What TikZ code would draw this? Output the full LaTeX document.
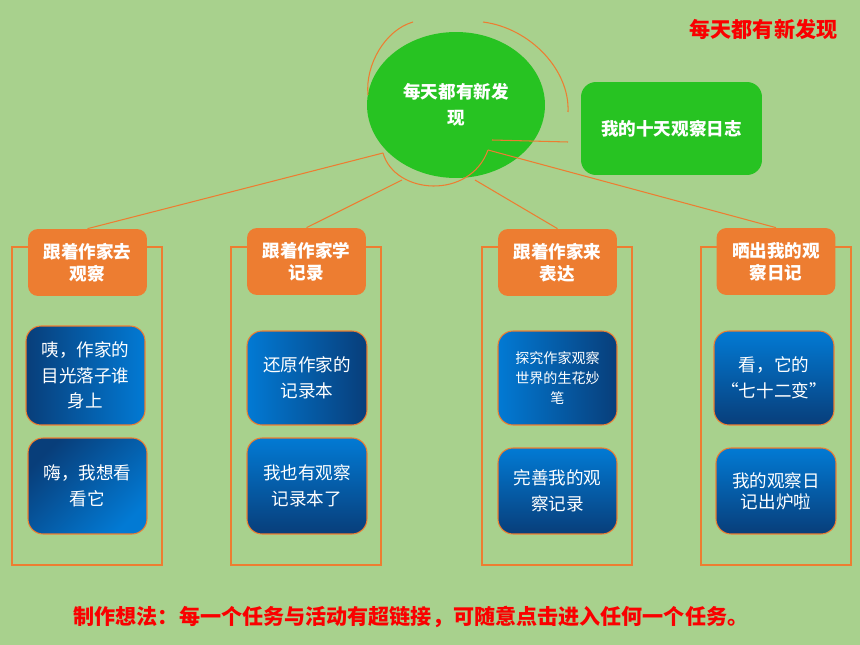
\documentclass[tikz,border=0pt]{standalone}
\usepackage{fontspec}
\setmainfont{Noto Sans CJK SC}
\usetikzlibrary{shapes.geometric}
\definecolor{bggreen}{RGB}{168,209,141}
\definecolor{leafgreen}{RGB}{39,195,34}
\definecolor{taskorange}{RGB}{237,125,49}
\definecolor{deepblue}{RGB}{8,62,122}
\definecolor{brightblue}{RGB}{2,122,212}
\definecolor{titlered}{RGB}{250,0,0}

\begin{document}
\begin{tikzpicture}[x=0.02cm,y=-0.02cm,
  thread/.style={draw=taskorange,line width=0.6pt},
  task/.style={fill=taskorange,rounded corners=0.2cm,inner sep=0pt,
    minimum width=2.38cm,minimum height=1.34cm,align=center,text=white,
    font=\bfseries\fontsize{10}{12.5}\selectfont},
  step box/.style={draw=taskorange,line width=0.6pt,rounded corners=0.3cm,
    inner sep=0pt,minimum width=2.38cm,align=center,text=white,
    font=\fontsize{10}{14.5}\selectfont},
  to right/.style={left color=deepblue,right color=brightblue},
  to left/.style={left color=brightblue,right color=deepblue},
  to bottom/.style={top color=brightblue,bottom color=deepblue},
  to corner/.style={top color=deepblue,bottom color=brightblue,shading angle=45}]
    \fill[bggreen] (0,0) rectangle (860,645);

    % frames behind the four tasks
    \draw[thread] (12,247) rectangle (162,565);
    \draw[thread] (231,247) rectangle (381,565);
    \draw[thread] (482,247) rectangle (632,565);
    \draw[thread] (701,247) rectangle (851,565);

    \node[ellipse,fill=leafgreen,minimum width=3.56cm,minimum height=2.92cm,
      inner sep=0pt,align=center,text=white,
      font=\bfseries\fontsize{10}{15}\selectfont] (hub) at (456,105) {每天都有新发\\现};
    \node[fill=leafgreen,rounded corners=0.3cm,minimum width=3.62cm,
      minimum height=1.86cm,inner sep=0pt,text=white,
      font=\bfseries\fontsize{10}{12}\selectfont] (diary) at (671.5,128.5) {我的十天观察日志};

    \draw[thread] (413,22) .. controls (385,30) and (365,65) .. (368,95);
    \draw[thread] (483,22) .. controls (530,28) and (570,70) .. (568,112);
    \draw[thread] (492,140) -- (568,142);

    \node[task] (go) at (87.5,262.5) {跟着作家去\\观察};
    \node[task] (learn) at (306.5,261.5) {跟着作家学\\记录};
    \node[task] (tell) at (557.5,262.5) {跟着作家来\\表达};
    \node[task] (show) at (776,261.5) {晒出我的观\\察日记};

    \coordinate (h1) at (383,153);
    \coordinate (h2) at (402,180);
    \coordinate (h3) at (475,180);
    \coordinate (h4) at (488,150);
    \draw[thread] (h1) .. controls (395,195) and (470,200) .. (h4);
    \draw[thread] (h1) -- (go.north);
    \draw[thread] (h2) -- (learn.north);
    \draw[thread] (h3) -- (tell.north);
    \draw[thread] (h4) -- (show.north);

    \node[step box,to right,minimum height=1.98cm] (go1) at (85.5,375.5) {咦，作家的\\目光落子谁\\身上};
    \node[step box,to corner,minimum height=1.92cm] (go2) at (87.5,486) {嗨，我想看\\看它};
    \node[step box,to left,minimum width=2.4cm,minimum height=1.88cm] (learn1) at (307,378) {还原作家的\\记录本};
    \node[step box,to bottom,minimum width=2.4cm,minimum height=1.92cm] (learn2) at (307,486) {我也有观察\\记录本了};
    \node[step box,to left,minimum height=1.88cm,
      font=\fontsize{8}{11.6}\selectfont] (tell1) at (557.5,378) {探究作家观察\\世界的生花妙\\笔};
    \node[step box,to bottom,minimum height=1.72cm] (tell2) at (557.5,491) {完善我的观\\察记录};
    \node[step box,to bottom,minimum width=2.4cm,minimum height=1.88cm] (show1) at (774,378) {看，它的\\“七十二变”};
    \node[step box,to bottom,minimum width=2.4cm,minimum height=1.72cm,
      font=\fontsize{10}{12}\selectfont] (show2) at (776,491) {我的观察日\\记出炉啦};

    \node[text=titlered,font=\bfseries\fontsize{12}{14}\selectfont] (title) at (763.5,29) {每天都有新发现};
    \node[text=titlered,font=\bfseries\fontsize{12}{14}\selectfont] (idea) at (411,617)
      {制作想法：每一个任务与活动有超链接，可随意点击进入任何一个任务。};
\end{tikzpicture}
\end{document}
